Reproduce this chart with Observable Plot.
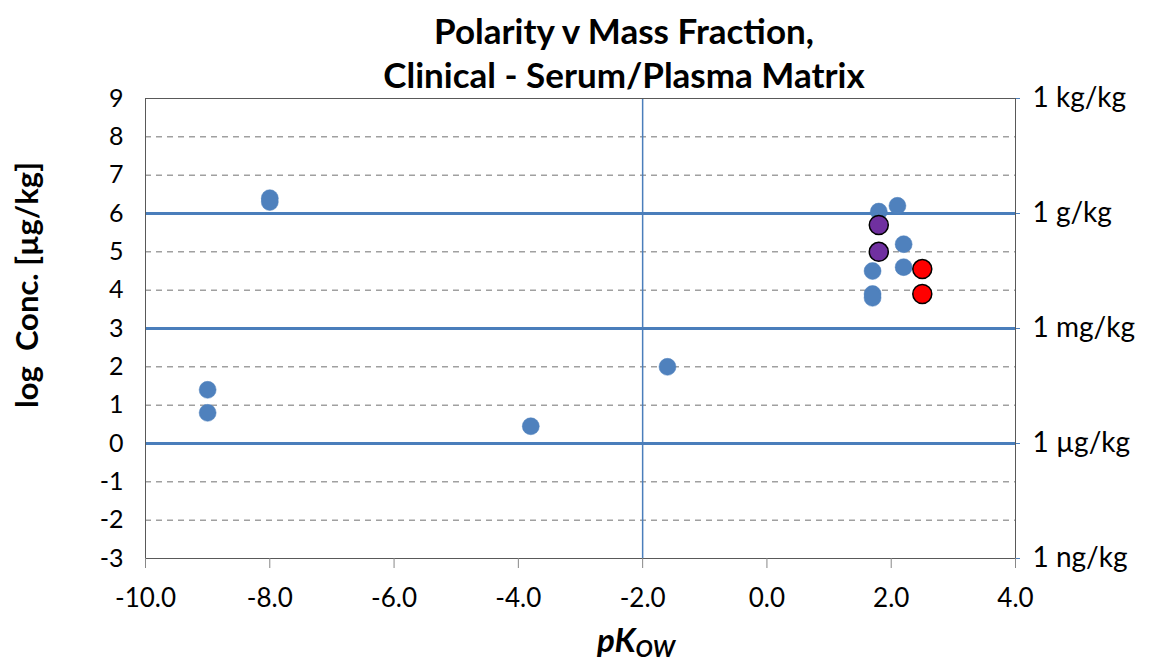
<!DOCTYPE html>
<html><head><meta charset="utf-8">
<script src="https://cdn.jsdelivr.net/npm/d3@7"></script>
<script src="https://cdn.jsdelivr.net/npm/@observablehq/plot@0.6"></script>
<style>
body{margin:0;background:#fff;font-family:Lato,"Open Sans",sans-serif;}
#title{width:1149px;height:78px;box-sizing:border-box;padding-left:99px;padding-top:8px;text-align:center;font-weight:bold;font-size:35px;line-height:44px;color:#000;overflow:visible;white-space:nowrap;}
#chart svg{display:block;overflow:visible;}
</style></head><body>
<div id="title">Polarity v Mass Fraction,<br>Clinical - Serum/Plasma Matrix</div>
<div id="chart"></div>
<script>
// Data (pKow vs log concentration in µg/kg)
const bluePk  = [-8.0, -8.0, -9.0, -9.0, -3.8, -1.6, 1.8, 2.1, 2.2, 2.2, 1.7, 1.7, 1.7];
const blueLog = [ 6.4,  6.3,  1.4,  0.8, 0.45, 2.0, 6.05, 6.2, 5.2, 4.6, 4.5, 3.9, 3.8];
const purplePk  = [1.8, 1.8];
const purpleLog = [5.7, 5.0];
const redPk  = [2.5, 2.5];
const redLog = [4.55, 3.9];
const xTicks = [-10, -8, -6, -4, -2, 0, 2, 4];
const yTicks = [-3, -2, -1, 0, 1, 2, 3, 4, 5, 6, 7, 8, 9];
const gridLevels = [-2, -1, 0, 1, 2, 3, 4, 5, 6, 7, 8];
const solidLevels = [0, 3, 6];
const unitLevels = [9, 6, 3, 0, -3];
const unitLabels = ["1 kg/kg", "1 g/kg", "1 mg/kg", "1 µg/kg", "1 ng/kg"];
const dividerPk = [-2];

const blue = bluePk.map((x, i) => ({x, y: blueLog[i]}));
const purple = purplePk.map((x, i) => ({x, y: purpleLog[i]}));
const red = redPk.map((x, i) => ({x, y: redLog[i]}));
const unitMap = new Map(unitLevels.map((v, i) => [v, unitLabels[i]]));

const top0 = 78; // svg top on the page
const plot = Plot.plot({
  width: 1149,
  height: 665 - top0,
  marginTop: 98 - top0,
  marginBottom: 107,
  marginLeft: 145,
  marginRight: 134,
  style: {fontFamily: "Lato, 'Open Sans', sans-serif", fontSize: "25px", color: "#000", background: "#fff", overflow: "visible"},
  x: {domain: [-10, 4]},
  y: {domain: [-3, 9]},
  marks: [
    Plot.ruleY(gridLevels, {stroke: "#a0a0a0", strokeWidth: 1.5, strokeDasharray: "6,5"}),
    Plot.ruleY(solidLevels, {stroke: "#4a7ebb", strokeWidth: 3}),
    Plot.ruleX(dividerPk, {stroke: "#4a7ebb", strokeWidth: 1.5}),
    Plot.frame({stroke: "#595959", strokeWidth: 1}),
    Plot.axisX({ticks: xTicks, tickFormat: d => d.toFixed(1), tickSize: 10, tickPadding: 20, stroke: "#888", fontSize: 26, label: null}),
    Plot.axisY({ticks: yTicks, tickFormat: d => String(d), tickSize: 0, tickPadding: 22, fontSize: 25, label: null}),
    Plot.axisY({anchor: "right", ticks: unitLevels, tickFormat: d => unitMap.get(d), tickSize: 4, tickPadding: 13, stroke: "#4a7ebb", fontSize: 28, label: null}),
    Plot.dot(blue, {x: "x", y: "y", r: 8.5, fill: "#4f81bd", stroke: "#4f81bd", strokeWidth: 0.5}),
    Plot.dot(purple, {x: "x", y: "y", r: 9.5, fill: "#7030a0", stroke: "#000", strokeWidth: 1.5}),
    Plot.dot(red, {x: "x", y: "y", r: 9.5, fill: "#ff0000", stroke: "#000", strokeWidth: 1.5})
  ]
});

const svg = d3.select(plot);
svg.append("text")
  .attr("transform", `translate(38,${285 - top0}) rotate(-90)`)
  .attr("text-anchor", "middle")
  .attr("font-weight", "bold")
  .attr("font-size", 31)
  .attr("fill", "#000")
  .text("log  Conc. [µg/kg]");
const xl = svg.append("text")
  .attr("x", 636).attr("y", 652 - top0)
  .attr("text-anchor", "middle")
  .attr("font-weight", "bold")
  .attr("font-style", "italic")
  .attr("font-size", 33)
  .attr("fill", "#000");
xl.append("tspan").text("pK");
xl.append("tspan").attr("font-size", 23).attr("dy", 5).text("OW");

document.getElementById("chart").appendChild(plot);
</script>
</body></html>
